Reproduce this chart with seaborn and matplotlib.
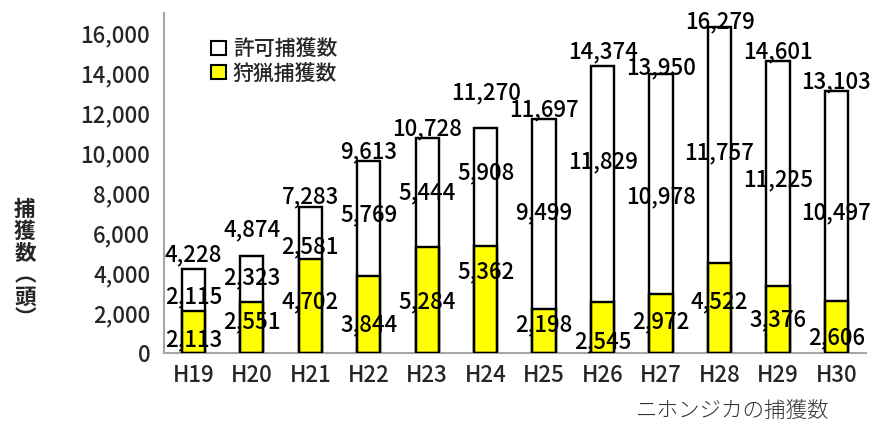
import matplotlib
matplotlib.use("Agg")
import matplotlib.pyplot as plt
from matplotlib.patches import Patch
from matplotlib.ticker import FixedLocator, FuncFormatter
import seaborn as sns
import pandas as pd
import numpy as np

# 年度別のニホンジカ捕獲数
years = ["H19", "H20", "H21", "H22", "H23", "H24",
         "H25", "H26", "H27", "H28", "H29", "H30"]
hunting = [2113, 2551, 4702, 3844, 5284, 5362, 2198, 2545, 2972, 4522, 3376, 2606]
permit = [2115, 2323, 2581, 5769, 5444, 5908, 9499, 11829, 10978, 11757, 11225, 10497]
totals = [h + p for h, p in zip(hunting, permit)]

# ラベルの縦位置（データ単位）
hunt_label_y = [650, 1550, 2550, 1400, 2550, 4050, 1400, 550, 1550, 2550, 1650, 750]
permit_label_y = [2800, 3750, 5300, 6900, 8000, 9000, 7000, 9550, 7800, 10000, 8650, 7000]
total_label_y = [4900, 6150, 7800, 10050, 11200, 13000, 12150, 15050, 14250, 16550, 15050, 13550]

df = pd.DataFrame({"年度": years, "狩猟": hunting, "許可": permit, "合計": totals})

sns.set_style("white")
plt.rcParams["font.family"] = ["Noto Sans CJK JP", "DejaVu Sans"]
plt.rcParams["font.weight"] = "medium"

fig = plt.figure(figsize=(8.87, 4.26), dpi=100)
ax = fig.add_axes([0.185, 0.171, 0.791, 0.7985])

edge = dict(edgecolor="black", linewidth=1.6)
sns.barplot(data=df, x="年度", y="合計", color="white", width=0.4,
            saturation=1, ax=ax, zorder=2, **edge)
sns.barplot(data=df, x="年度", y="狩猟", color="#FFFF00", width=0.4,
            saturation=1, ax=ax, zorder=2, **edge)

lab_kw = dict(ha="center", va="center", fontsize=16, color="black", zorder=3)
for i in range(len(years)):
    ax.text(i, hunt_label_y[i], f"{hunting[i]:,}", **lab_kw)
    ax.text(i, permit_label_y[i], f"{permit[i]:,}", **lab_kw)
    ax.text(i, total_label_y[i], f"{totals[i]:,}", **lab_kw)

# 棒の枠線を文字の上に重ねる
for p in list(ax.patches):
    ax.add_patch(plt.Rectangle(p.get_xy(), p.get_width(), p.get_height(),
                               facecolor="none", edgecolor="black",
                               linewidth=1.6, zorder=4))

ax.set_ylim(0, 17000)
ax.set_xlim(-0.5, len(years) - 0.5)
ax.set_yticks(range(0, 16001, 2000))
ax.yaxis.set_major_formatter(FuncFormatter(lambda v, _: f"{int(v):,}"))
ax.xaxis.set_minor_locator(FixedLocator(np.arange(-0.5, len(years), 1.0)))

axis_gray = "#A6A6A6"
for s in ["top", "right"]:
    ax.spines[s].set_visible(False)
for s in ["left", "bottom"]:
    ax.spines[s].set_color(axis_gray)
    ax.spines[s].set_linewidth(1.5)

ax.tick_params(axis="y", direction="in", length=6, width=1.2, color=axis_gray,
               labelsize=16, pad=10)
ax.tick_params(axis="x", which="major", length=0, labelsize=16, pad=8)
ax.tick_params(axis="x", which="minor", direction="out", length=6, width=1.2,
               color=axis_gray)
ax.set_xlabel("")
ax.set_ylabel("")

fig.text(0.028, 0.38, "捕\n獲\n数\n︵\n頭\n︶", ha="center", va="center",
         fontsize=15.5, fontweight="bold", linespacing=1.05)

handles = [Patch(facecolor="white", edgecolor="black", linewidth=1.5, label="許可捕獲数"),
           Patch(facecolor="#FFFF00", edgecolor="black", linewidth=1.5, label="狩猟捕獲数")]
ax.legend(handles=handles, loc="upper left", bbox_to_anchor=(0.055, 0.95),
          frameon=False, fontsize=15, handlelength=0.7, handleheight=0.7,
          handletextpad=0.35, labelspacing=0.1, borderaxespad=0)

fig.text(0.826, 0.035, "ニホンジカの捕獲数", ha="center", va="center",
         fontsize=15.5, color="#333333", fontweight="light")

fig.savefig("out.png", dpi=100)
